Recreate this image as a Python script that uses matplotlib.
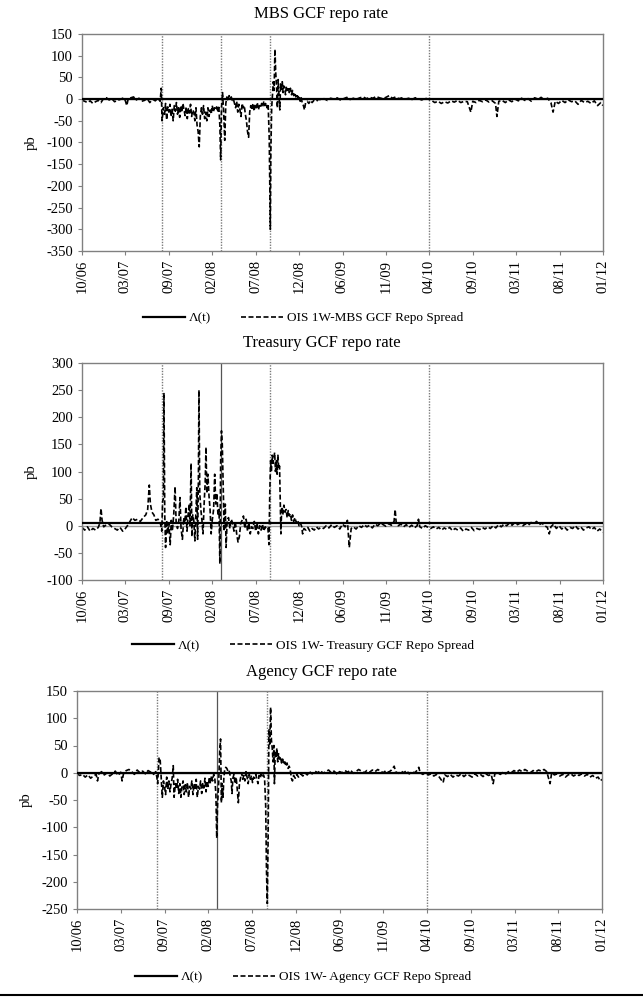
import numpy as np
import matplotlib
matplotlib.use('Agg')
import matplotlib.pyplot as plt
from matplotlib.lines import Line2D

plt.rcParams['font.family'] = ['Liberation Serif', 'DejaVu Serif']
plt.rcParams['axes.unicode_minus'] = False

# x axis: days after 20 Oct 2006, ticks every 160 days
tick_days = [0, 160, 320, 480, 640, 800, 960, 1120, 1280, 1440, 1600, 1760, 1920]
tick_labels = ['10/06', '03/07', '09/07', '02/08', '07/08', '12/08', '06/09',
               '11/09', '04/10', '09/10', '03/11', '08/11', '01/12']

# event lines (Aug 07, Mar 08, Sep 08, Apr 10)
event_days = [294, 512, 694, 1280]

# Lambda(t) threshold
lam_days = [0, 1920]
lam_mbs = [0, 0]
lam_treasury = [5, 5]
lam_agency = [0, 0]

# OIS 1W - GCF repo spreads (day, pb)
mbs_spread = [
    (0, -3), (10, -5), (20, -8), (30, -4), (40, -10), (50, -6), (60, -3), (70, -8), (80, 2), (90, 3),
    (100, -2), (110, 1), (120, -6), (130, -3), (140, -1), (150, 2), (160, -4), (165, -15), (170, 0),
    (180, 3), (190, 5), (200, -2), (210, 2), (220, -5), (230, -3), (240, 1), (250, -8), (260, 0),
    (270, -4), (280, 2), (288, -5), (292, 25), (295, -50), (300, -20), (304, -35), (308, -10),
    (312, -48), (316, -18), (320, -30), (324, -12), (328, -40), (332, -22), (336, -50), (340, -15),
    (344, -28), (348, -8), (352, -35), (356, -20), (360, -42), (364, -15), (368, -30), (372, -10),
    (376, -25), (380, -38), (384, -18), (388, -45), (392, -22), (396, -32), (400, -12), (404, -40),
    (408, -25), (412, -30), (416, -50), (420, -20), (424, -60), (428, -75), (432, -110), (436, -40),
    (440, -20), (444, -35), (448, -15), (452, -45), (456, -30), (460, -50), (464, -20), (468, -40),
    (472, -25), (476, -35), (480, -15), (484, -30), (488, -20), (492, -25), (496, -18), (500, -30),
    (504, -15), (508, -60), (511, -140), (514, -20), (518, 15), (522, -30), (526, -95), (530, -10),
    (534, 5), (538, -5), (542, 8), (546, 2), (550, 5), (554, -3), (558, 0), (562, -10), (566, -20),
    (570, -5), (574, -30), (578, -12), (582, -25), (586, -40), (590, -10), (594, -20), (598, -15),
    (602, -35), (606, -50), (610, -75), (614, -88), (618, -30), (622, -15), (626, -25), (630, -10),
    (634, -28), (638, -12), (642, -20), (646, -8), (650, -25), (654, -15), (658, -20), (662, -10),
    (666, -18), (670, -5), (674, -15), (678, -8), (682, -20), (686, -12), (690, -90), (692, -200),
    (694, -300), (696, -120), (699, -20), (702, 10), (705, 40), (708, 20), (711, 115), (714, 60),
    (717, 30), (720, -20), (723, 45), (726, 10), (729, -25), (732, 35), (735, 20), (738, 40),
    (741, 15), (744, 30), (747, 25), (750, 10), (753, 30), (756, 20), (760, 28), (764, 15), (768, 25),
    (772, 10), (776, 20), (780, 8), (784, 15), (788, 5), (792, 12), (796, 2), (800, 8), (804, -5),
    (808, 3), (812, -10), (816, -15), (820, -25), (824, -8), (830, -5), (836, -10), (842, -3),
    (848, -8), (856, -2), (864, -5), (872, 0), (880, -2), (892, 1), (904, -3), (916, 2), (928, 0),
    (940, 3), (952, -2), (964, 1), (976, 4), (988, -1), (1000, 2), (1012, 0), (1024, 3), (1036, 5),
    (1048, 1), (1060, 4), (1072, 2), (1084, 6), (1096, 3), (1108, 1), (1120, 4), (1132, 8), (1144, 2),
    (1156, 5), (1168, 1), (1180, 3), (1192, 0), (1204, 2), (1216, -1), (1228, 3), (1240, 1),
    (1252, -2), (1264, 2), (1276, 0), (1288, -3), (1300, -8), (1312, -5), (1324, -10), (1336, -6),
    (1348, -9), (1360, -4), (1372, -7), (1384, -3), (1396, -8), (1408, -5), (1420, -6), (1433, -30),
    (1440, -5), (1452, -8), (1464, -3), (1476, -6), (1488, -2), (1500, -7), (1512, -4), (1524, -10),
    (1529, -40), (1536, -5), (1548, -3), (1560, -8), (1572, -2), (1584, -6), (1596, 0), (1608, -4),
    (1620, 2), (1632, -3), (1644, 1), (1656, -5), (1668, 3), (1680, 0), (1692, 4), (1704, -2),
    (1716, 2), (1728, -8), (1736, -30), (1744, -5), (1756, -10), (1768, -3), (1780, -8), (1792, -2),
    (1804, -6), (1816, -4), (1828, -12), (1840, -3), (1852, -8), (1864, -5), (1876, -10), (1888, -4),
    (1900, -15), (1912, -8), (1920, -15),
]

treasury_spread = [
    (0, -3), (10, -8), (20, -2), (30, -10), (40, -5), (50, -8), (60, -3), (66, 5), (70, 32), (74, 10),
    (80, -2), (90, 2), (100, 3), (110, -2), (120, -5), (130, -8), (140, -3), (150, -10), (160, -5),
    (170, 2), (177, 8), (185, 15), (195, 10), (205, 12), (215, 8), (225, 15), (235, 20), (242, 30),
    (248, 75), (252, 40), (258, 25), (265, 20), (272, 10), (280, 12), (286, 8), (290, 2), (294, -10),
    (297, 45), (300, 50), (302, 245), (305, 20), (308, -40), (312, 10), (316, -15), (320, 5),
    (325, -35), (329, 10), (333, -10), (338, 20), (343, 72), (347, 5), (352, -5), (357, 10), (361, 52),
    (365, -5), (370, -25), (375, 15), (379, 5), (383, 35), (387, -10), (391, 20), (395, 40), (398, 0),
    (402, 115), (405, -20), (408, 20), (412, 10), (416, -28), (420, 30), (423, 70), (426, -25),
    (429, 90), (431, 250), (434, 60), (438, 30), (442, 10), (446, -15), (450, 40), (454, 80),
    (457, 145), (460, 60), (464, 95), (468, 55), (472, 30), (476, -15), (480, 10), (485, 30),
    (489, 95), (493, 40), (497, 60), (501, 20), (505, 30), (508, -70), (511, 120), (514, 175),
    (517, 150), (520, 80), (524, -10), (528, 40), (531, -40), (535, 10), (540, 15), (545, -5),
    (550, 12), (555, 5), (560, -10), (565, 8), (570, -15), (575, -30), (580, -20), (585, 5), (590, 10),
    (595, 18), (600, -5), (605, 12), (610, -10), (615, 5), (620, -15), (625, -2), (630, -5), (635, 8),
    (640, -10), (645, 5), (650, -15), (655, 0), (660, -8), (665, 3), (670, -10), (675, -2), (680, -5),
    (685, -3), (689, -35), (692, 60), (695, 120), (698, 100), (701, 130), (704, 115), (707, 125),
    (710, 135), (713, 100), (716, 120), (719, 95), (722, 130), (725, 105), (728, 110), (731, 40),
    (733, -15), (736, 35), (740, 20), (744, 38), (748, 25), (752, 30), (756, 15), (760, 28),
    (764, 18), (768, 22), (772, 10), (776, 20), (780, 8), (785, 15), (790, 5), (795, 10), (800, 0),
    (805, 5), (810, -2), (813, -15), (818, -5), (825, -8), (832, -3), (840, -10), (848, -5),
    (856, -8), (864, -2), (872, -6), (880, -3), (890, -5), (900, 0), (910, -4), (920, 2), (930, -3),
    (940, 0), (950, -6), (960, 3), (970, -2), (978, 10), (985, -40), (992, -5), (1000, -2),
    (1010, -6), (1020, 0), (1030, -3), (1040, 2), (1050, -2), (1060, 1), (1070, -4), (1080, 3),
    (1090, 0), (1100, 5), (1110, 2), (1120, -1), (1130, 4), (1140, 1), (1150, 8), (1154, 30),
    (1158, 5), (1165, 0), (1175, 3), (1185, -2), (1195, 2), (1205, -3), (1215, 1), (1225, -4),
    (1235, 0), (1240, 12), (1245, -2), (1255, -5), (1265, 0), (1275, -3), (1285, -5), (1295, -2),
    (1305, -6), (1315, -3), (1325, -8), (1335, -4), (1345, -7), (1355, -3), (1365, -9), (1375, -5),
    (1385, -8), (1395, -4), (1405, -10), (1415, -6), (1425, -8), (1435, -3), (1445, -9), (1455, -5),
    (1465, -7), (1475, -3), (1485, -6), (1495, -2), (1505, -5), (1515, 0), (1525, -4), (1535, 2),
    (1545, -2), (1555, 3), (1565, 0), (1575, 5), (1585, 1), (1595, 6), (1605, 2), (1615, 5),
    (1625, 0), (1635, 4), (1645, 1), (1655, 6), (1665, 3), (1675, 8), (1685, 2), (1695, 5), (1705, 0),
    (1715, -3), (1722, -15), (1728, -2), (1738, 3), (1748, -5), (1758, 0), (1768, -6), (1778, -2),
    (1788, -8), (1798, -3), (1808, -5), (1818, 0), (1828, -6), (1838, -2), (1848, -8), (1858, -4),
    (1868, -2), (1878, -7), (1888, -3), (1898, -10), (1908, -6), (1920, -12),
]

agency_spread = [
    (0, -2), (10, -5), (20, -3), (30, -8), (40, -4), (50, -10), (60, -6), (70, -3), (75, -15), (80, -2),
    (90, 2), (100, -4), (110, 0), (120, -6), (130, -2), (140, 3), (150, -5), (160, 1), (165, -15),
    (170, -2), (180, 4), (190, 6), (200, 2), (210, -3), (220, 5), (230, 0), (240, 3), (250, -2),
    (260, 4), (270, 1), (280, -3), (288, 2), (292, -8), (295, -20), (300, 28), (304, 25), (308, -10),
    (312, -45), (316, -15), (320, -25), (324, -40), (328, -8), (332, -30), (336, -15), (340, -35),
    (344, -20), (348, -10), (352, 13), (355, -45), (360, -20), (364, -30), (368, -12), (372, -38),
    (376, -20), (380, -45), (384, -25), (388, -15), (392, -40), (396, -22), (400, -35), (404, -18),
    (408, -45), (412, -25), (416, -30), (420, -15), (424, -40), (428, -20), (432, -32), (436, -12),
    (440, -45), (444, -25), (448, -30), (452, -15), (456, -38), (460, -20), (464, -28), (468, -10),
    (472, -35), (476, -15), (480, -25), (484, -8), (488, -20), (492, -5), (496, -15), (500, -3),
    (504, -10), (508, -40), (511, -120), (514, -60), (518, -20), (522, 40), (525, 62), (528, -55),
    (531, -20), (534, -45), (537, -10), (540, 5), (544, 10), (548, 8), (552, 3), (556, 5), (560, -5),
    (564, -15), (567, -38), (570, -10), (574, -3), (578, -20), (582, -8), (586, -30), (590, -55),
    (594, -20), (598, -10), (602, 0), (606, -12), (610, -5), (614, -15), (618, 2), (622, -8),
    (626, -20), (630, -3), (634, -12), (638, -5), (642, -18), (646, -8), (650, -10), (654, -3),
    (658, -12), (662, -20), (666, -5), (670, -10), (674, -2), (678, -8), (682, -4), (686, -10),
    (690, -60), (693, -180), (696, -240), (699, -120), (702, 80), (705, 50), (708, 120), (711, 60),
    (714, 45), (717, 20), (720, 50), (722, -20), (725, 40), (728, 30), (731, 45), (734, 20), (737, 35),
    (740, 25), (744, 30), (748, 18), (752, 25), (756, 15), (760, 20), (764, 12), (768, 18), (772, 8),
    (776, 12), (780, 5), (784, -10), (788, -15), (792, -5), (798, -10), (804, -3), (810, -8),
    (818, -2), (826, -6), (834, 0), (842, -4), (850, 2), (860, -2), (870, 3), (880, 0), (890, 4),
    (900, -1), (910, 2), (920, 5), (930, 0), (940, 3), (950, -2), (960, 2), (970, 0), (980, 4),
    (990, 1), (1000, 5), (1010, -1), (1020, 2), (1030, 6), (1040, 3), (1050, 0), (1060, 4), (1070, 1),
    (1080, 5), (1090, 2), (1100, 6), (1110, 3), (1120, 0), (1130, 4), (1140, 1), (1150, 5), (1160, 12),
    (1165, 2), (1175, -1), (1185, 3), (1195, 0), (1205, 4), (1215, -2), (1225, 2), (1235, 0),
    (1245, 5), (1250, 10), (1255, 0), (1265, -3), (1275, 1), (1285, -4), (1295, -2), (1305, -6),
    (1315, -3), (1325, -8), (1339, -18), (1345, -4), (1355, -7), (1365, -3), (1375, -8), (1385, -4),
    (1395, -6), (1405, -2), (1415, -7), (1425, -3), (1435, -5), (1445, -8), (1455, -2), (1465, -6),
    (1475, -3), (1485, -7), (1495, -2), (1505, -5), (1515, -3), (1522, -20), (1528, -2), (1538, 0),
    (1548, -3), (1558, 1), (1568, -2), (1578, 2), (1588, 0), (1598, 4), (1608, 1), (1618, 5),
    (1628, 2), (1638, 6), (1648, 3), (1658, 0), (1668, 4), (1678, 2), (1688, 5), (1698, 3), (1708, 6),
    (1718, 2), (1730, -20), (1736, 0), (1746, -4), (1756, -2), (1766, -6), (1776, -3), (1786, -8),
    (1796, -4), (1806, -2), (1816, -6), (1826, -3), (1836, -5), (1846, -2), (1856, -6), (1866, -3),
    (1876, -8), (1886, -5), (1896, -10), (1906, -8), (1914, -15), (1920, -12),
]

W, H = 643, 997
fig = plt.figure(figsize=(W / 100, H / 100), dpi=100)

dotted = dict(color='#7a7a7a', lw=1.0, ls=(0, (1, 1)))
solid = dict(color='#555555', lw=0.9, ls='-')


def panel(box, title, title_y, pts, lam, ylim, ystep, label, leg_y, vstyles):
    left, top, right, bottom = box
    ax = fig.add_axes([left / W, 1 - bottom / H, (right - left) / W, (bottom - top) / H])
    d, v = zip(*pts)
    ax.axhline(0, color='#9a9a9a', lw=1.0, zorder=1)
    for day, st in zip(event_days, vstyles):
        ax.axvline(day, zorder=1, **st)
    l1, = ax.plot(lam_days, lam, color='black', lw=1.6, zorder=3)
    l2, = ax.plot(d, v, color='black', lw=1.2, ls=(0, (3, 1.5)), zorder=2)
    ax.set_xlim(0, 1920)
    ax.set_ylim(*ylim)
    ax.set_yticks(np.arange(ylim[0], ylim[1] + 1, ystep))
    ax.set_xticks(tick_days)
    ax.set_xticklabels(tick_labels, rotation=90)
    ax.tick_params(axis='both', labelsize=10.5, colors='black', length=3,
                   color='#808080', direction='out')
    ax.set_ylabel('pb', fontsize=10.5, labelpad=6)
    for s in ax.spines.values():
        s.set_color('#808080')
        s.set_linewidth(1.0)
    fig.text(0.5, 1 - title_y / H, title, ha='center', va='center', fontsize=12)
    fig.legend([l1, l2], ['Λ(t)', label], loc='center', bbox_to_anchor=(303 / W, 1 - leg_y / H),
               ncol=2, frameon=False, fontsize=9.5, handlelength=3.2, columnspacing=2.2,
               handletextpad=0.3)
    return ax


panel((82, 34, 603, 251), 'MBS GCF repo rate', 14, mbs_spread, lam_mbs, (-350, 150), 50,
      'OIS 1W-MBS GCF Repo Spread', 318, [dotted, dotted, dotted, dotted])
panel((82, 363, 603, 580), 'Treasury GCF repo rate', 343, treasury_spread, lam_treasury,
      (-100, 300), 50, 'OIS 1W- Treasury GCF Repo Spread', 646, [dotted, solid, dotted, dotted])
panel((77, 691, 602, 909), 'Agency GCF repo rate', 672, agency_spread, lam_agency, (-250, 150), 50,
      'OIS 1W- Agency GCF Repo Spread', 977, [dotted, solid, dotted, dotted])

fig.add_artist(Line2D([0, 1], [1 - 995 / H, 1 - 995 / H], color='black', lw=1.5))

fig.savefig('out.png', dpi=100)
